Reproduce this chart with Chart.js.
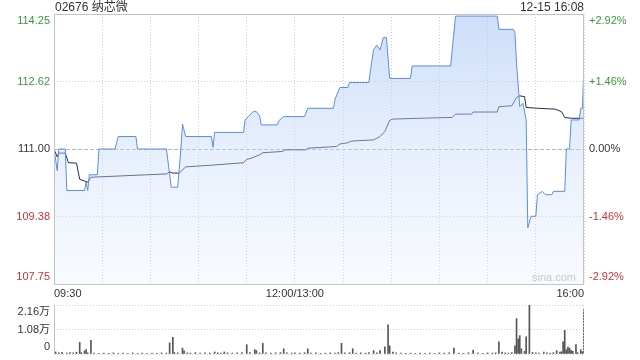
<!DOCTYPE html>
<html lang="zh">
<head>
    <meta charset="UTF-8">
    <title>02676 纳芯微</title>
    <script src="https://cdn.jsdelivr.net/npm/chart.js@4.4.0/dist/chart.umd.min.js"></script>
    <style>
        * { margin: 0; padding: 0; box-sizing: border-box; }
        body {
            width: 640px;
            height: 360px;
            background: #fff;
            position: relative;
            overflow: hidden;
            font-family: 'Liberation Sans', Arial, 'Noto Sans CJK SC', sans-serif;
            color: #333;
        }
        #mainChart { position: absolute; left: 0; top: 0; }
        #volChart { position: absolute; left: 0; top: 288px; }
        .title {
            position: absolute;
            top: 0;
            font-size: 12px;
            line-height: 14px;
            white-space: nowrap;
        }
        .title.left { left: 55px; }
        .title.right { right: 56px; }
        .watermark {
            position: absolute;
            left: 532px;
            top: 271px;
            font-size: 11px;
            color: #c8c8c8;
        }
    </style>
</head>
<body>
    <canvas id="mainChart" width="640" height="300"></canvas>
    <canvas id="volChart" width="640" height="72"></canvas>
    <div class="title left">02676 纳芯微</div>
    <div class="title right">12-15 16:08</div>
    <div class="watermark">sina.com</div>

    <script>
        // minutes since 09:30 (lunch break removed), 330 = 16:00
        const priceT = [0, 2, 3, 7, 8, 19, 20, 21, 22, 27, 28, 38, 40, 51, 52, 70, 73, 77, 79, 80, 82, 98, 99, 100,
            118, 119, 121, 124, 126, 128, 129, 139, 140, 143, 156, 158, 174, 175, 178, 183, 184, 196, 197, 199,
            201, 203, 205, 207, 209, 222, 223, 247, 250, 276, 277, 286, 287, 288, 290, 292, 294, 295, 297, 300,
            301, 304, 306, 310, 311, 318, 319, 321, 322, 327, 328, 329, 330];
        const priceV = [111.00, 110.48, 111.00, 111.00, 110.00, 110.00, 110.20, 110.00, 110.38, 110.38, 111.00,
            111.00, 111.30, 111.30, 111.00, 111.00, 110.08, 110.08, 111.00, 111.60, 111.30, 111.30, 111.04, 111.40,
            111.40, 111.70, 111.78, 111.90, 111.90, 111.80, 111.58, 111.58, 111.68, 111.78, 111.78, 111.98, 111.98,
            112.20, 112.48, 112.48, 112.60, 112.60, 112.88, 113.40, 113.50, 113.38, 113.68, 113.68, 112.70, 112.70,
            113.00, 113.00, 114.20, 114.20, 113.88, 113.88, 113.80, 113.06, 112.02, 112.10, 111.70, 109.10, 109.38,
            109.38, 109.90, 109.98, 109.90, 109.90, 109.98, 109.98, 111.00, 111.00, 111.70, 111.70, 111.98, 111.98,
            113.10];

        const avgT = [0, 2, 3, 7, 9, 14, 16, 19, 21, 23, 70, 72, 74, 78, 82, 98, 118, 120, 123, 128, 130, 142, 144,
            157, 158, 176, 178, 183, 185, 199, 203, 206, 209, 211, 228, 248, 250, 260, 261, 276, 277, 285, 288, 290,
            293, 294, 301, 312, 316, 318, 322, 330];
        const avgV = [111.00, 110.81, 110.90, 110.90, 110.67, 110.66, 110.27, 110.23, 110.20, 110.32, 110.40, 110.45,
            110.42, 110.42, 110.57, 110.61, 110.67, 110.75, 110.78, 110.86, 110.91, 110.94, 110.98, 110.98, 111.02,
            111.06, 111.12, 111.15, 111.19, 111.22, 111.30, 111.42, 111.69, 111.72, 111.74, 111.76, 111.84, 111.84,
            111.89, 111.89, 112.02, 112.04, 112.24, 112.28, 112.26, 112.00, 111.98, 111.96, 111.90, 111.76, 111.74,
            111.74];

        const volT = [1, 3, 5, 8, 10, 12, 14, 16, 17, 19, 20, 21, 23, 25, 28, 31, 34, 37, 40, 43, 46, 49, 52, 55, 58,
            61, 64, 67, 70, 72, 74, 75, 77, 80, 81, 83, 85, 88, 91, 94, 97, 100, 102, 104, 106, 108, 111, 114, 117,
            120, 122, 125, 126, 128, 130, 132, 135, 138, 141, 143, 145, 148, 150, 153, 156, 158, 160, 163, 166, 169,
            172, 175, 177, 179, 181, 184, 186, 188, 191, 194, 196, 199, 201, 203, 206, 208, 209, 211, 213, 216, 219,
            222, 225, 228, 231, 234, 237, 240, 243, 246, 249, 252, 255, 258, 261, 264, 267, 270, 273, 275, 277, 279,
            281, 283, 285, 287, 288, 289, 290, 291, 293, 294, 296, 298, 300, 302, 305, 307, 309, 311, 313, 315, 316,
            317, 318, 319, 320, 321, 322, 323, 325, 326, 328, 329, 330];
        const volV = [900, 500, 700, 400, 600, 500, 800, 5100, 600, 1300, 1900, 500, 6000, 400, 300, 400, 300, 500,
            300, 400, 300, 500, 300, 400, 300, 400, 300, 500, 400, 4900, 7400, 600, 500, 2600, 1400, 500, 400, 600,
            400, 500, 400, 900, 500, 400, 900, 500, 400, 500, 600, 4100, 600, 1900, 1500, 500, 4700, 500, 400, 500,
            600, 2300, 500, 400, 500, 400, 600, 2300, 400, 500, 300, 400, 500, 400, 600, 4700, 500, 600, 2300, 400,
            500, 400, 600, 1500, 500, 1500, 3200, 12900, 3600, 900, 500, 400, 300, 400, 300, 400, 300, 400, 300, 500,
            400, 500, 2600, 400, 300, 500, 1700, 400, 300, 500, 400, 500, 5400, 900, 500, 400, 600, 3600, 15600,
            6700, 8100, 2300, 1200, 7600, 21600, 700, 500, 400, 900, 500, 400, 600, 1500, 900, 1000, 5400, 10400,
            1900, 3100, 2600, 1600, 1200, 4200, 600, 1900, 1000, 19500];

        const xTicks = [0, 30, 60, 90, 120, 150, 180, 210, 240, 270, 300, 330];
        const xLabels = { 0: '09:30', 150: '12:00/13:00', 330: '16:00' };

        const yTicks = [107.75, 109.375, 111.00, 112.625, 114.25];
        const yLabels = ['107.75', '109.38', '111.00', '112.62', '114.25'];
        const pctLabels = ['-2.92%', '-1.46%', '0.00%', '+1.46%', '+2.92%'];
        const volTicks = [0, 10800, 21600];
        const volLabels = ['0', '1.08万', '2.16万'];

        const GREEN = '#3a9a3a', RED = '#cc3333', DARK = '#333';
        const tickColors = [RED, RED, DARK, GREEN, GREEN];
        const FONT = { family: "'Liberation Sans', Arial, 'Noto Sans CJK SC', sans-serif", size: 11 };

        // first / last label pulled inside the plot like the original
        function edgeLabel(text, i, n) {
            if (i === 0) return [text, ''];
            if (i === n - 1) return ['', text];
            return text;
        }

        // fixed axis width, and no extra room asked for the edge labels
        function fixWidth(w) {
            return s => {
                s.width = w;
                s.paddingTop = 0;
                s.paddingBottom = 0;
            };
        }

        const framePlugin = {
            id: 'frame',
            afterDatasetsDraw(chart, args, opts) {
                const a = chart.chartArea, c = chart.ctx;
                c.save();
                c.strokeStyle = '#c4c4c4';
                c.lineWidth = 1;
                if (opts.full) {
                    c.strokeRect(a.left + 0.5, a.top + 0.5, a.right - a.left - 1, a.bottom - a.top);
                } else {
                    c.beginPath();
                    c.moveTo(a.left + 0.5, a.top);
                    c.lineTo(a.left + 0.5, a.bottom);
                    c.stroke();
                    c.setLineDash([1, 2]);
                    c.beginPath();
                    c.moveTo(a.right - 0.5, a.top);
                    c.lineTo(a.right - 0.5, a.bottom);
                    c.stroke();
                }
                c.restore();
            }
        };

        function fillGradient(context) {
            const area = context.chart.chartArea;
            if (!area) return 'rgba(180,205,245,0.4)';
            const g = context.chart.ctx.createLinearGradient(0, area.top, 0, area.bottom);
            g.addColorStop(0, 'rgba(170,200,245,0.6)');
            g.addColorStop(1, 'rgba(225,235,252,0.25)');
            return g;
        }

        new Chart(document.getElementById('mainChart'), {
            type: 'line',
            data: {
                datasets: [{
                    data: priceT.map((t, i) => ({ x: t, y: priceV[i] })),
                    borderColor: '#5b8de0',
                    borderWidth: 1,
                    pointRadius: 0,
                    tension: 0,
                    fill: 'start',
                    backgroundColor: fillGradient
                }, {
                    data: avgT.map((t, i) => ({ x: t, y: avgV[i] })),
                    borderColor: '#1f2d55',
                    borderWidth: 1,
                    pointRadius: 0,
                    tension: 0,
                    fill: false
                }]
            },
            options: {
                responsive: false,
                animation: false,
                devicePixelRatio: 1,
                events: [],
                layout: { padding: { top: 14, left: 0, right: 0, bottom: 0 } },
                plugins: {
                    legend: { display: false },
                    tooltip: { enabled: false },
                    frame: { full: true }
                },
                scales: {
                    x: {
                        type: 'linear',
                        min: 0,
                        max: 330,
                        afterBuildTicks: s => { s.ticks = xTicks.map(v => ({ value: v })); },
                        afterFit: s => { s.height = 16; s.paddingLeft = 0; s.paddingRight = 0; },
                        grid: { color: '#cfcfcf', drawTicks: false },
                        border: { display: false, dash: [1, 2] },
                        ticks: {
                            autoSkip: false,
                            maxRotation: 0,
                            align: 'inner',
                            padding: 3,
                            color: DARK,
                            font: FONT,
                            callback: v => xLabels[v] || ''
                        }
                    },
                    y: {
                        position: 'left',
                        min: 107.75,
                        max: 114.25,
                        afterBuildTicks: s => { s.ticks = yTicks.map(v => ({ value: v })); },
                        afterFit: fixWidth(54),
                        grid: {
                            drawTicks: false,
                            color: ctx => ctx.index === 2 ? '#a9b6cc' : '#cfcfcf'
                        },
                        border: { display: false, dash: ctx => ctx.index === 2 ? [4, 2] : [1, 2] },
                        ticks: {
                            autoSkip: false,
                            padding: 4,
                            font: FONT,
                            color: ctx => tickColors[ctx.index],
                            callback: (v, i) => edgeLabel(yLabels[i], i, yLabels.length)
                        }
                    },
                    y2: {
                        position: 'right',
                        min: 107.75,
                        max: 114.25,
                        afterBuildTicks: s => { s.ticks = yTicks.map(v => ({ value: v })); },
                        afterFit: fixWidth(56),
                        grid: { drawOnChartArea: false, drawTicks: false },
                        border: { display: false },
                        ticks: {
                            autoSkip: false,
                            padding: 5,
                            font: FONT,
                            color: ctx => tickColors[ctx.index],
                            callback: (v, i) => edgeLabel(pctLabels[i], i, pctLabels.length)
                        }
                    }
                }
            },
            plugins: [framePlugin]
        });

        new Chart(document.getElementById('volChart'), {
            type: 'bar',
            data: {
                datasets: [{
                    data: volT.map((t, i) => ({ x: t, y: volV[i] })),
                    backgroundColor: '#555',
                    barThickness: 1
                }]
            },
            options: {
                responsive: false,
                animation: false,
                devicePixelRatio: 1,
                events: [],
                // plot area: y 305..354 on the page
                layout: { padding: { top: 17, left: 0, right: 56, bottom: 6 } },
                plugins: {
                    legend: { display: false },
                    tooltip: { enabled: false },
                    frame: { full: false }
                },
                scales: {
                    x: {
                        type: 'linear',
                        min: 0,
                        max: 330,
                        offset: false,
                        display: false
                    },
                    y: {
                        min: 0,
                        max: 21600,
                        afterBuildTicks: s => { s.ticks = volTicks.map(v => ({ value: v })); },
                        afterFit: fixWidth(54),
                        grid: { color: '#cfcfcf', drawTicks: false },
                        border: { display: false, dash: [1, 2] },
                        ticks: {
                            autoSkip: false,
                            padding: 4,
                            font: FONT,
                            color: DARK,
                            callback: (v, i) => edgeLabel(volLabels[i], i, volLabels.length)
                        }
                    }
                }
            },
            plugins: [framePlugin]
        });
    </script>
</body>
</html>
